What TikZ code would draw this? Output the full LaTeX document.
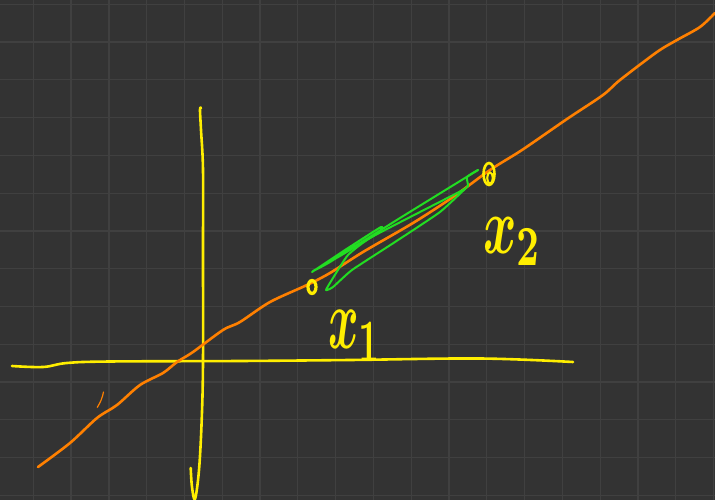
\documentclass[tikz,border=0pt]{standalone}
\usepackage{graphicx}
\usepackage{amsmath}
\definecolor{bg}{HTML}{333333}
\definecolor{gridc}{HTML}{404040}
\definecolor{axisy}{HTML}{FFEE00}
\definecolor{curveo}{HTML}{FF8000}
\definecolor{scribg}{HTML}{22DD22}
\tikzset{
  gridline/.style={draw=gridc,line width=1.3pt},
  yellowstroke/.style={draw=axisy,line width=2.6pt,line cap=round,line join=round},
  orangestroke/.style={draw=curveo,line width=2.6pt,line cap=round,line join=round},
  greenstroke/.style={draw=scribg,line width=2pt,line cap=round,line join=round},
  lab/.style={text=axisy,inner sep=0pt,anchor=north west}
}
\begin{document}
\begin{tikzpicture}[x=1pt,y=-1pt]
\useasboundingbox (0,0) rectangle (715,500);
\fill[bg] (0,0) rectangle (715,500);
% grid
\foreach \k in {0,...,18} {
  \draw[gridline] ({33.3+37.79*\k},0) -- ({33.3+37.79*\k},500);
}
\foreach \k in {0,...,13} {
  \draw[gridline] (0,{4.3+37.77*\k}) -- (715,{4.3+37.77*\k});
}
% horizontal axis
\draw[yellowstroke] plot[smooth,tension=0.6] coordinates {(12,366) (43,367) (67,363) (110,361.5) (240,361) (350,360) (480,358.5) (573,362)};
% vertical axis
\draw[yellowstroke] plot[smooth,tension=0.6] coordinates {(201,108) (200,110) (201,130) (203,170) (203,250) (203,362) (201.7,420) (199,470) (195,499) (192,487) (190.7,468)};
% orange curve
\draw[orangestroke] plot[smooth,tension=0.5] coordinates {(38,467) (70,443) (97,418) (117,405) (140,385) (163,373) (177,362) (193,352) (223,330) (240,322) (270,302) (307,285) (330,273) (363,252) (413,223) (453,197) (490,170) (522,150) (567,119) (603,95) (620,80) (657,52) (677,40) (700,27) (715,13)};
\draw[draw=curveo,line width=1.2pt,line cap=round] (103.5,392) to[bend left=10] (97.3,407.3);
% green scribble
\draw[greenstroke] plot[smooth,tension=0.3] coordinates {(312,272) (345,250) (381,227) (378,233) (340,256) (313,271) (330,262) (400,218) (478,170)};
\draw[greenstroke] plot[smooth,tension=0.3] coordinates {(478,170) (467,177) (468,186) (461,191) (420,212) (370,238) (348,255) (333,278) (326,290) (333,287) (352,270) (395,242) (440,212) (468,186)};
% yellow point markers
\draw[draw=axisy,line width=3.2pt] (312,287) ellipse[x radius=4,y radius=6.5];
\draw[draw=axisy,line width=2.6pt] (489,174) ellipse[x radius=5.5,y radius=11];
\draw[draw=axisy,line width=2pt] (490,178) ellipse[x radius=2.8,y radius=5.5];
% labels
\node[lab] (xone) at (328,310) {\resizebox*{54pt}{51pt}{\boldmath$x_1$}};
\node[lab] (xtwo) at (483,217) {\resizebox*{59pt}{48pt}{\boldmath$x_2$}};
\end{tikzpicture}
\end{document}
